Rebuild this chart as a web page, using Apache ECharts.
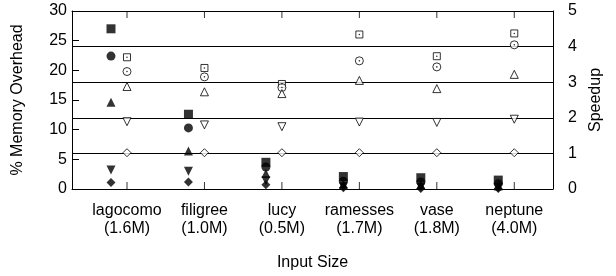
<!DOCTYPE html>
<html><head><meta charset="utf-8">
<script src="https://cdn.jsdelivr.net/npm/echarts@6/dist/echarts.min.js"></script>
<style>html,body{margin:0;padding:0;background:#fff}#c{width:616px;height:276px}</style>
</head><body><div id="c"></div>
<script>
var categories = ['lagocomo\n(1.6M)', 'filigree\n(1.0M)', 'lucy\n(0.5M)', 'ramesses\n(1.7M)', 'vase\n(1.8M)', 'neptune\n(4.0M)'];
var yLeftTicks = [0, 5, 10, 15, 20, 25, 30];
var yRightTicks = [0, 1, 2, 3, 4, 5];
// % memory overhead (filled markers, left axis)
var memSquare  = [27.0, 12.6, 4.5, 2.1, 1.9, 1.5];
var memCircle  = [22.4, 10.3, 3.7, 1.3, 1.2, 0.9];
var memTriUp   = [14.6, 6.4, 2.6, 0.8, 0.7, 0.5];
var memTriDown = [3.2, 3.0, 1.4, 0.4, 0.3, 0.2];
var memDiamond = [1.1, 1.2, 0.7, 0.2, 0.1, 0.1];
// speedup (hollow markers, right axis)
var spdSquare  = [3.70, 3.40, 2.95, 4.34, 3.73, 4.37];
var spdCircle  = [3.30, 3.15, 2.85, 3.60, 3.43, 4.05];
var spdTriUp   = [2.88, 2.73, 2.68, 3.05, 2.82, 3.22];
var spdTriDown = [1.89, 1.80, 1.75, 1.88, 1.87, 1.96];
var spdDiamond = [1.02, 1.02, 1.02, 1.02, 1.02, 1.02];

function pts(arr){ return arr.map(function(v,i){ return [i, v]; }); }
var FONT = 'Liberation Sans, Arial, sans-serif';
var idx = categories.map(function(_,i){return i;});

function filled(name, arr, symbol, size, rot){
  return {type:'scatter', name:name, yAxisIndex:0, data:pts(arr), symbol:symbol, symbolSize:size,
    symbolRotate:rot||0, symbolOffset:[-16,0], itemStyle:{color:'#000'}, silent:true, z:3};
}
function hollow(name, arr, symbol, size, rot){
  return {type:'scatter', name:name, yAxisIndex:1, data:pts(arr), symbol:symbol, symbolSize:size,
    symbolRotate:rot||0, itemStyle:{color:'#fff', borderColor:'#000', borderWidth:1}, silent:true, z:3};
}
function dot(arr){
  return {type:'scatter', yAxisIndex:1, data:pts(arr), symbol:'circle', symbolSize:1.6,
    itemStyle:{color:'#000'}, silent:true, z:4};
}
// category tick marks at the bottom (y=0) and top (y=30) edges of the plot
function tickMarks(yVal, dy){
  return {type:'scatter', yAxisIndex:0, clip:false, silent:true, z:2,
    data: idx.map(function(i){ return [i, yVal]; }),
    symbol:'rect', symbolSize:[1, 7], symbolOffset:[0, dy], itemStyle:{color:'#000'}};
}

var chart = echarts.init(document.getElementById('c'), null, {renderer:'canvas'});
chart.setOption({
  animation:false,
  backgroundColor:'#fff',
  textStyle:{fontFamily:FONT},
  grid:{left:72, top:11, right:63, bottom:85, containLabel:false},
  xAxis:[{
    type:'value', min:-0.71, max:5.5, position:'bottom',
    axisLine:{show:true, onZero:false, lineStyle:{color:'#000', width:1}},
    axisTick:{show:false},
    axisLabel:{show:true, customValues:idx, color:'#000', fontSize:16, fontFamily:FONT, margin:13, lineHeight:18,
      formatter:function(v){ return categories[Math.round(v)]; }},
    splitLine:{show:false},
    name:'Input Size', nameLocation:'middle', nameGap:66,
    nameTextStyle:{color:'#000', fontSize:16, fontFamily:FONT}
  },{
    type:'value', min:-0.71, max:5.5, position:'top',
    axisLine:{show:true, onZero:false, lineStyle:{color:'#000', width:1}},
    axisTick:{show:false},
    axisLabel:{show:false}, splitLine:{show:false}
  }],
  yAxis:[{
    type:'value', min:0, max:30, interval:5, position:'left',
    axisLine:{show:true, onZero:false, lineStyle:{color:'#000', width:1}},
    axisTick:{show:true, inside:true, length:7, lineStyle:{color:'#000'}},
    axisLabel:{color:'#000', fontSize:16, fontFamily:FONT, margin:5},
    splitLine:{show:false},
    name:'% Memory Overhead', nameLocation:'middle', nameGap:46, nameRotate:90,
    nameTextStyle:{color:'#000', fontSize:16, fontFamily:FONT}
  },{
    type:'value', min:0, max:5, interval:1, position:'right',
    axisLine:{show:true, onZero:false, lineStyle:{color:'#000', width:1}},
    axisTick:{show:false},
    axisLabel:{color:'#000', fontSize:16, fontFamily:FONT, margin:15},
    splitLine:{show:true, lineStyle:{color:'#000', width:1}},
    name:'Speedup', nameLocation:'middle', nameGap:30, nameRotate:90,
    nameTextStyle:{color:'#000', fontSize:16, fontFamily:FONT}
  }],
  series:[
    tickMarks(0, -3.5),
    tickMarks(30, 3.5),
    filled('mem-square', memSquare, 'rect', 9),
    filled('mem-circle', memCircle, 'circle', 9),
    filled('mem-triup', memTriUp, 'triangle', 9),
    filled('mem-tridown', memTriDown, 'triangle', 9, 180),
    filled('mem-diamond', memDiamond, 'diamond', 9),
    hollow('spd-square', spdSquare, 'rect', 7),
    hollow('spd-circle', spdCircle, 'circle', 8),
    hollow('spd-triup', spdTriUp, 'triangle', 8),
    hollow('spd-tridown', spdTriDown, 'triangle', 8, 180),
    hollow('spd-diamond', spdDiamond, 'diamond', 8),
    dot(spdSquare), dot(spdCircle)
  ]
});
</script></body></html>
